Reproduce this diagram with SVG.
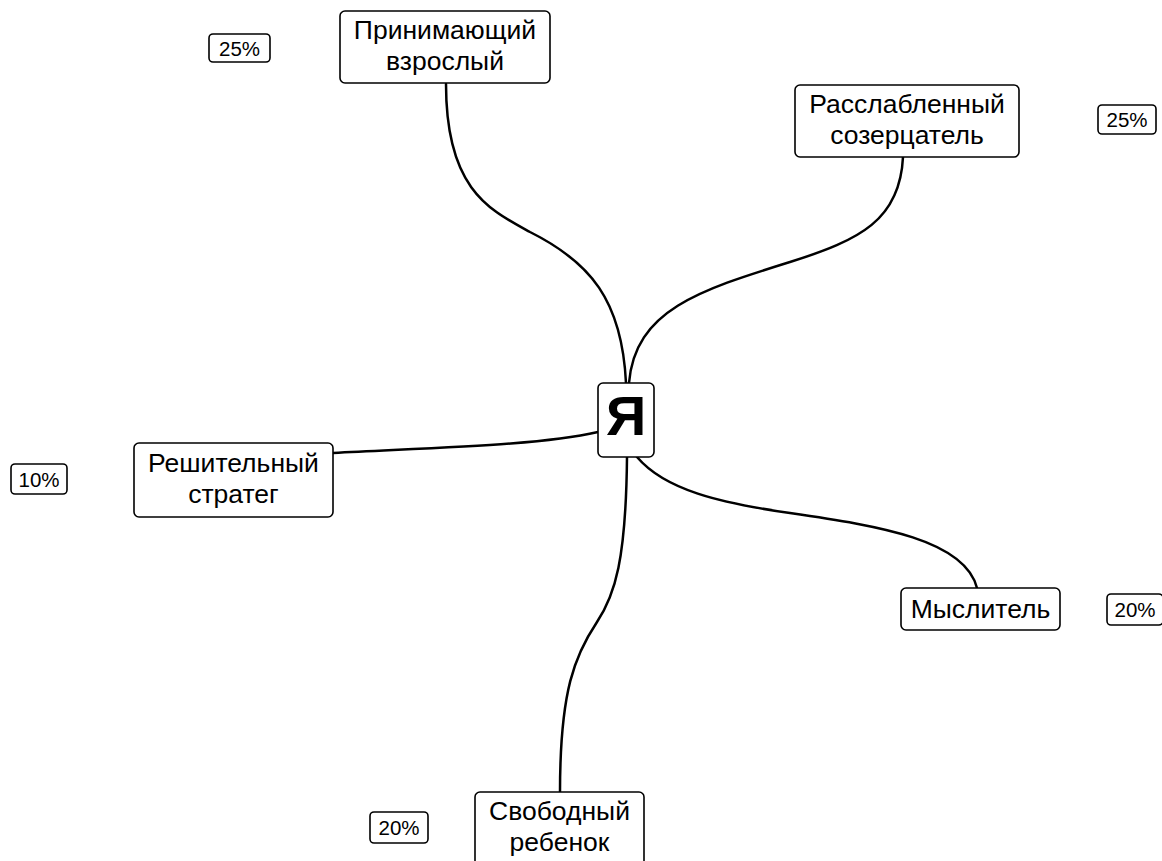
<svg xmlns="http://www.w3.org/2000/svg" width="1162" height="861" viewBox="0 0 1162 861">
  <style>
    .box { fill: #ffffff; stroke: #000000; stroke-width: 1.6; }
    .lbl { font-family: "Liberation Sans", Arial, sans-serif; font-size: 26.5px; fill: #000000; text-anchor: middle; }
    .pct { font-family: "Liberation Sans", Arial, sans-serif; font-size: 20.5px; fill: #000000; text-anchor: middle; }
    .core { font-family: "Liberation Sans", Arial, sans-serif; font-size: 56px; font-weight: bold; fill: #000000; text-anchor: middle; }
    .link { fill: none; stroke: #000000; stroke-width: 2.5; stroke-linecap: round; }
  </style>
  <rect width="1162" height="861" fill="#ffffff"/>

  <!-- branches from the centre -->
  <g id="connectors">
    <path class="link" d="M446,84 C446,190 490,210 530,232 C590,262 622,300 626,383"/>
    <path class="link" d="M903,157 C900,220 860,240 790,262 C700,290 635,310 629,383"/>
    <path class="link" d="M333,453 C450,447 540,445 598,432"/>
    <path class="link" d="M637,457 C665,490 720,503 790,513 C880,526 965,540 977,588"/>
    <path class="link" d="M627,457 C626,560 615,595 597,622 C575,655 560,690 560,792"/>
  </g>

  <g id="center">
    <rect class="box" x="598" y="383" width="56" height="74" rx="5"/>
    <text class="core" x="626" y="435">Я</text>
  </g>

  <g id="node-adult">
    <rect class="box" x="340" y="11" width="210" height="72" rx="5"/>
    <text class="lbl" x="445" y="39">Принимающий</text>
    <text class="lbl" x="445" y="70">взрослый</text>
  </g>
  <g id="pct-adult">
    <rect class="box" x="209" y="34" width="61" height="28" rx="4"/>
    <text class="pct" x="239.5" y="55.5">25%</text>
  </g>

  <g id="node-contemplator">
    <rect class="box" x="795" y="85" width="224" height="72" rx="5"/>
    <text class="lbl" x="907" y="113">Расслабленный</text>
    <text class="lbl" x="907" y="144">созерцатель</text>
  </g>
  <g id="pct-contemplator">
    <rect class="box" x="1098" y="105" width="58" height="29" rx="4"/>
    <text class="pct" x="1127" y="127">25%</text>
  </g>

  <g id="node-strategist">
    <rect class="box" x="134" y="443" width="199" height="74" rx="5"/>
    <text class="lbl" x="233.5" y="472">Решительный</text>
    <text class="lbl" x="233.5" y="503">стратег</text>
  </g>
  <g id="pct-strategist">
    <rect class="box" x="11" y="464" width="56" height="30" rx="4"/>
    <text class="pct" x="39" y="486.5">10%</text>
  </g>

  <g id="node-thinker">
    <rect class="box" x="901" y="588" width="159" height="42" rx="5"/>
    <text class="lbl" x="980.5" y="618">Мыслитель</text>
  </g>
  <g id="pct-thinker">
    <rect class="box" x="1107" y="594" width="56" height="31" rx="4"/>
    <text class="pct" x="1135" y="617">20%</text>
  </g>

  <g id="node-child">
    <rect class="box" x="475" y="792" width="169" height="80" rx="5"/>
    <text class="lbl" x="559.5" y="820">Свободный</text>
    <text class="lbl" x="559.5" y="851">ребенок</text>
  </g>
  <g id="pct-child">
    <rect class="box" x="370" y="812" width="58" height="31" rx="4"/>
    <text class="pct" x="399" y="834.5">20%</text>
  </g>
</svg>
